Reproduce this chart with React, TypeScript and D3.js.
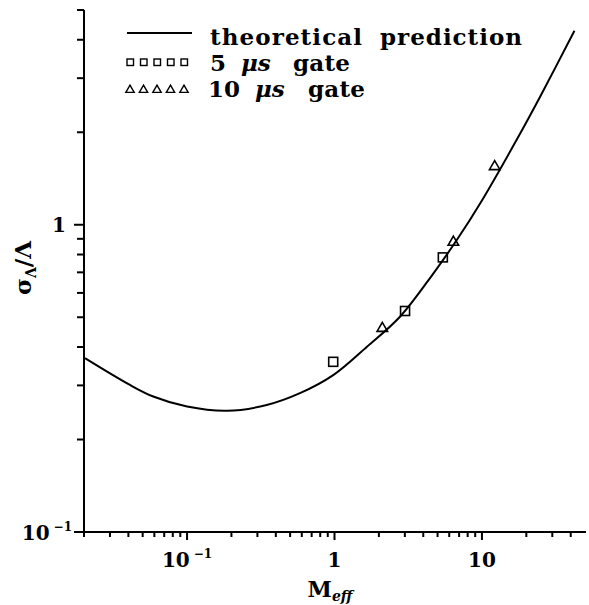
import React from "react";
import * as d3 from "d3";

// theoretical prediction
const curveM = [0.0203, 0.041, 0.059, 0.1, 0.186, 0.347, 0.583, 0.98, 1.66, 2.78, 4.69, 6.75, 10, 18.2, 24.8, 42.4];
const curveSigma = [0.368, 0.301, 0.276, 0.256, 0.248, 0.259, 0.283, 0.324, 0.401, 0.502, 0.695, 0.892, 1.2, 1.985, 2.61, 4.28];

// measured points
const gate5M = [0.98, 3.01, 5.43];
const gate5Sigma = [0.358, 0.524, 0.783];
const gate10M = [2.11, 6.4, 12.2];
const gate10Sigma = [0.46, 0.877, 1.546];

const xMajor = [0.1, 1, 10];
const xMinor = [0.02, 0.03, 0.04, 0.05, 0.06, 0.07, 0.08, 0.09, 0.2, 0.3, 0.4, 0.5, 0.6, 0.7, 0.8, 0.9, 2, 3, 4, 5, 6, 7, 8, 9, 20, 30, 40];
const yMajor = [0.1, 1];
const yMinor = [0.2, 0.3, 0.4, 0.5, 0.6, 0.7, 0.8, 0.9, 2, 3, 4, 5];

const font = "'DejaVu Serif', serif";

const App = () => {
  const width = 589;
  const height = 605;

  const x = d3.scaleLog().domain([0.02, 50]).range([84, 585]);
  const y = d3.scaleLog().domain([0.1, 5]).range([532, 10]);

  const curve = curveM.map((m, i) => [x(m), y(curveSigma[i])] as [number, number]);
  const line = d3.line().curve(d3.curveCatmullRom.alpha(0.5));

  const tri = d3.symbol().type(d3.symbolTriangle).size(48);
  const triSmall = d3.symbol().type(d3.symbolTriangle).size(30);

  const legendX = [130, 143.5, 157, 170.5, 184];

  const supLabel = (anchor: string, px: number, py: number) => (
    <text x={px} y={py} textAnchor={anchor} fontFamily={font} fontWeight="bold" fontSize={20}>
      10
      <tspan dx={4} dy={-9} fontSize={12}>−1</tspan>
    </text>
  );

  return (
    <svg width={width} height={height} style={{ display: "block", position: "absolute", left: 0, top: 0 }}>
      <rect width={width} height={height} fill="#fff" />
      {/* axes */}
      <g stroke="#000" strokeWidth={2} fill="none">
        <line x1={84} x2={84} y1={10} y2={533} />
        <line x1={83} x2={586} y1={532} y2={532} />
        {xMajor.map((d) => (
          <line key={"xM" + d} x1={x(d)} x2={x(d)} y1={532} y2={540} />
        ))}
        {xMinor.map((d) => (
          <line key={"xm" + d} x1={x(d)} x2={x(d)} y1={532} y2={537} />
        ))}
        {yMajor.map((d) => (
          <line key={"yM" + d} x1={74} x2={84} y1={y(d)} y2={y(d)} />
        ))}
        {yMinor.map((d) => (
          <line key={"ym" + d} x1={77} x2={84} y1={y(d)} y2={y(d)} />
        ))}
      </g>

      {/* tick labels */}
      {supLabel("middle", x(0.1), 567)}
      <text x={x(1)} y={567} textAnchor="middle" fontFamily={font} fontWeight="bold" fontSize={20}>1</text>
      <text x={x(10)} y={567} textAnchor="middle" fontFamily={font} fontWeight="bold" fontSize={20}>10</text>
      {supLabel("end", 72, 540)}
      <text x={66} y={y(1) + 7} textAnchor="end" fontFamily={font} fontWeight="bold" fontSize={20}>1</text>

      {/* axis titles */}
      <text x={330} y={597} textAnchor="middle" fontFamily={font} fontWeight="bold" fontSize={22}>
        M<tspan dy={4} fontSize={14} fontStyle="italic">eff</tspan>
      </text>
      <text transform="translate(31,268) rotate(-90)" textAnchor="middle" fontFamily={font} fontWeight="bold" fontSize={23}>
        σ<tspan dy={5} fontSize={14}>Λ</tspan><tspan dy={-5}>/Λ</tspan>
      </text>

      {/* curve */}
      <path d={line(curve) ?? ""} fill="none" stroke="#000" strokeWidth={2} />

      {/* data */}
      {gate5M.map((m, i) => (
        <rect key={"s" + i} x={x(m) - 4.5} y={y(gate5Sigma[i]) - 4.5} width={9} height={9}
          fill="none" stroke="#000" strokeWidth={1.6} />
      ))}
      {gate10M.map((m, i) => (
        <path key={"t" + i} d={tri() ?? ""} transform={`translate(${x(m)},${y(gate10Sigma[i])})`}
          fill="none" stroke="#000" strokeWidth={1.6} />
      ))}

      {/* legend */}
      <line x1={127} x2={192} y1={33} y2={33} stroke="#000" strokeWidth={2} />
      {legendX.map((lx) => (
        <rect key={"ls" + lx} x={lx - 3} y={59} width={6.5} height={6.5} fill="none" stroke="#000" strokeWidth={1.4} />
      ))}
      {legendX.map((lx) => (
        <path key={"lt" + lx} d={triSmall() ?? ""} transform={`translate(${lx},${90})`} fill="none" stroke="#000" strokeWidth={1.4} />
      ))}
      <g fontFamily={font} fontWeight="bold" fontSize={23}>
        <text x={210} y={45} textLength={152} lengthAdjust="spacing">theoretical</text>
        <text x={380} y={45} textLength={142} lengthAdjust="spacing">prediction</text>
        <text x={210} y={71}>5</text>
        <text x={241} y={71} fontStyle="italic">μs</text>
        <text x={293} y={71} textLength={57} lengthAdjust="spacing">gate</text>
        <text x={208} y={97}>10</text>
        <text x={255} y={97} fontStyle="italic">μs</text>
        <text x={308} y={97} textLength={57} lengthAdjust="spacing">gate</text>
      </g>
    </svg>
  );
};

export default App;
